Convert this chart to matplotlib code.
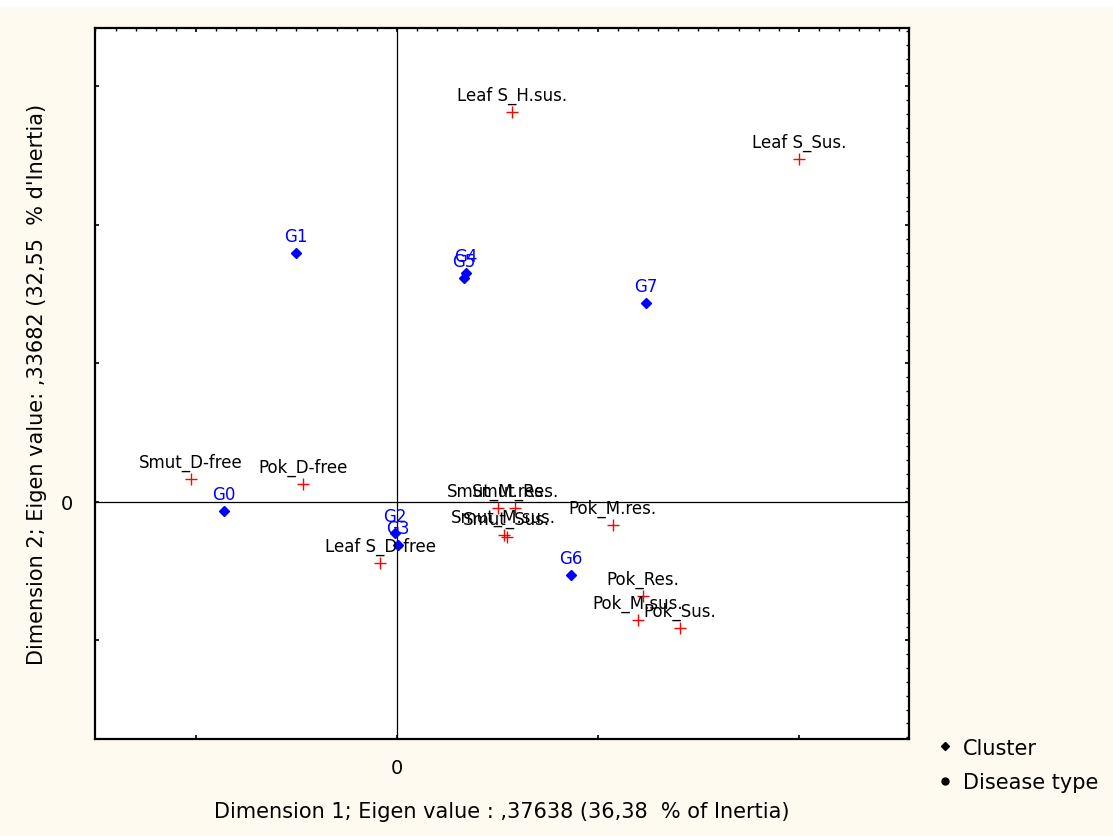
import matplotlib
matplotlib.use('Agg')
import matplotlib.pyplot as plt
from matplotlib.lines import Line2D
from matplotlib.patches import Rectangle
from matplotlib.ticker import MultipleLocator, FuncFormatter

plt.rcParams['font.family'] = ['DejaVu Sans']

# clusters (blue diamonds)
cluster_names = ['G0', 'G1', 'G2', 'G3', 'G4', 'G5', 'G6', 'G7']
cluster_x = [-0.430, -0.251, -0.005, 0.002, 0.172, 0.167, 0.433, 0.619]
cluster_y = [-0.032, 0.899, -0.112, -0.155, 0.827, 0.809, -0.264, 0.718]

# disease types (red crosses)
disease_names = ['Leaf S_H.sus.', 'Leaf S_Sus.', 'Smut_D-free', 'Pok_D-free', 'Leaf S_D-free',
                 'Smut_M.res.', 'Smut_Res.', 'Smut_M.sus.', 'Smut_Sus.',
                 'Pok_M.res.', 'Pok_Res.', 'Pok_M.sus.', 'Pok_Sus.']
disease_x = [0.286, 1.000, -0.512, -0.234, -0.042,
             0.251, 0.294, 0.266, 0.273,
             0.537, 0.612, 0.600, 0.704]
disease_y = [1.408, 1.238, 0.083, 0.065, -0.220,
             -0.022, -0.022, -0.119, -0.126,
             -0.083, -0.339, -0.426, -0.455]

xlab = 'Dimension 1; Eigen value : ,37638 (36,38  % of Inertia)'
ylab = "Dimension 2; Eigen value: ,33682 (32,55  % d'Inertia)"

fig = plt.figure(figsize=(11.13, 8.37), dpi=100)
fig.patch.set_facecolor('#fffaf0')
fig.patches.append(Rectangle((0, 0.991), 1, 0.009, transform=fig.transFigure,
                             facecolor='white', edgecolor='none', zorder=0))

ax = fig.add_axes([0.0854, 0.1159, 0.7313, 0.8495])
ax.set_facecolor('white')
ax.set_xlim(-0.751, 1.274)
ax.set_ylim(-0.856, 1.711)

# axes through the origin
ax.axhline(0, color='black', lw=0.9, zorder=1)
ax.axvline(0, color='black', lw=0.9, zorder=1)

ax.plot(cluster_x, cluster_y, 'D', color='#0000ff', markersize=5.5, zorder=3)
ax.plot(disease_x, disease_y, '+', color='#ff0000', markersize=8, mew=1.0, zorder=3)

for name, x, y in zip(cluster_names, cluster_x, cluster_y):
    ax.annotate(name, (x, y), xytext=(0, 12), textcoords='offset points',
                ha='center', va='center', color='#0000ff', fontsize=12)
for name, x, y in zip(disease_names, disease_x, disease_y):
    ax.annotate(name, (x, y), xytext=(0, 12.5), textcoords='offset points',
                ha='center', va='center', color='black', fontsize=12)

for s in ax.spines.values():
    s.set_linewidth(1.6)

ax.xaxis.set_major_locator(MultipleLocator(0.5))
ax.yaxis.set_major_locator(MultipleLocator(0.5))
ax.xaxis.set_minor_locator(MultipleLocator(0.05))
ax.yaxis.set_minor_locator(MultipleLocator(0.05))
zero_only = FuncFormatter(lambda v, p: '0' if abs(v) < 1e-9 else '')
ax.xaxis.set_major_formatter(zero_only)
ax.yaxis.set_major_formatter(zero_only)
ax.tick_params(which='major', direction='in', length=3, width=1.2,
               top=True, right=True, labelsize=14)
ax.tick_params(axis='x', which='major', pad=14)
ax.tick_params(axis='y', which='major', pad=16)
ax.tick_params(which='minor', direction='in', length=2, width=1.0,
               top=True, right=True, bottom=False, left=False)

ax.set_xlabel(xlab, fontsize=15, labelpad=17)
ax.set_ylabel(ylab, fontsize=15, labelpad=10)

handles = [Line2D([], [], marker='D', color='black', ls='none', markersize=4),
           Line2D([], [], marker='o', color='black', ls='none', markersize=5)]
fig.legend(handles, ['Cluster', 'Disease type'], loc='upper left',
           bbox_to_anchor=(0.823, 0.14), frameon=False, fontsize=15,
           handletextpad=0.35, handlelength=1.0, labelspacing=0.7)

fig.savefig('out.png', dpi=100, facecolor=fig.get_facecolor())
